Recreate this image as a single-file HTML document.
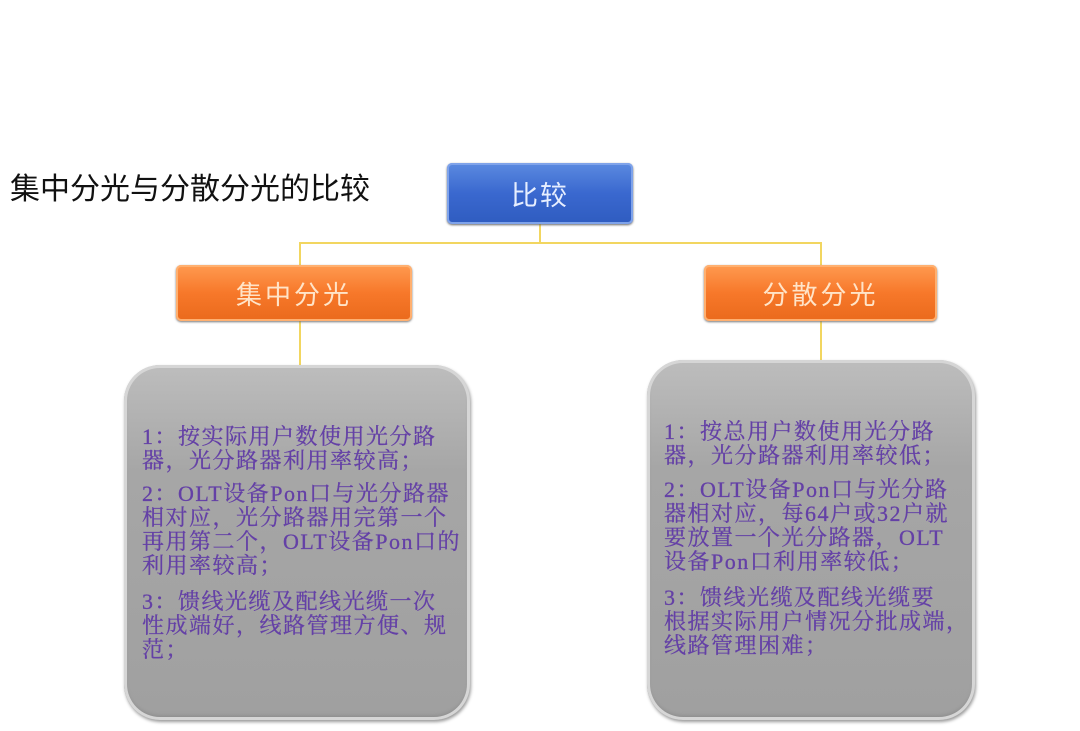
<!DOCTYPE html>
<html><head><meta charset="utf-8"><style>
body{margin:0;width:1080px;height:731px;background:#fff;position:relative;overflow:hidden;font-family:"Liberation Sans","Noto Sans CJK SC",sans-serif}
.a{position:absolute}
.ln{position:absolute;background:#f2d660}
.blue{left:447px;top:163px;width:186px;height:61px;border-radius:5px;background:linear-gradient(#5b8ae0,#3a68cf 50%,#2f5cc0);box-shadow:inset 0 0 0 2px #7fa3ea,0 1px 2px #666;color:#e6eeff;font-size:27px;display:flex;align-items:center;justify-content:center;letter-spacing:2px}
.or{top:265px;height:56px;border-radius:5px;background:linear-gradient(#ff9a50,#f7782a 50%,#ea6a1c);box-shadow:inset 0 0 0 2px #ffb070,0 1px 2px #777;color:#ffe4c8;font-size:26px;display:flex;align-items:center;justify-content:center;letter-spacing:3px}
.gr{border-radius:36px;background:linear-gradient(#bdbdbd,#a6a6a6 30%,#a0a0a0);box-shadow:inset 0 0 0 3px #d6d6d6,inset 0 -4px 4px #8a8a8a,1px 2px 3px #999}
.t{position:absolute;font-family:"Liberation Serif","Noto Serif CJK SC",serif;font-size:22px;color:#6440a6;line-height:24px;white-space:nowrap;letter-spacing:1.5px;-webkit-text-stroke:0.3px #6440a6}
</style></head><body>
<div class="a" style="left:10px;top:164px;font-size:30px;color:#111">集中分光与分散分光的比较</div>
<div class="ln" style="left:539px;top:224px;width:2px;height:20px"></div>
<div class="ln" style="left:299px;top:242px;width:523px;height:2px"></div>
<div class="ln" style="left:299px;top:242px;width:2px;height:24px"></div>
<div class="ln" style="left:820px;top:242px;width:2px;height:24px"></div>
<div class="ln" style="left:299px;top:321px;width:2px;height:45px"></div>
<div class="ln" style="left:820px;top:321px;width:2px;height:40px"></div>
<div class="a blue">比较</div>
<div class="a or" style="left:176px;width:236px">集中分光</div>
<div class="a or" style="left:704px;width:233px">分散分光</div>
<div class="a gr" style="left:124px;top:365px;width:346px;height:355px"></div>
<div class="a gr" style="left:647px;top:360px;width:328px;height:360px"></div>
<div class="t" style="left:142px;top:425px">1：按实际用户数使用光分路<br>器，光分路器利用率较高；</div>
<div class="t" style="left:142px;top:482px">2：OLT设备Pon口与光分路器<br>相对应，光分路器用完第一个<br>再用第二个，OLT设备Pon口的<br>利用率较高；</div>
<div class="t" style="left:142px;top:590px">3：馈线光缆及配线光缆一次<br>性成端好，线路管理方便、规<br>范；</div>
<div class="t" style="left:664px;top:420px">1：按总用户数使用光分路<br>器，光分路器利用率较低；</div>
<div class="t" style="left:664px;top:478px">2：OLT设备Pon口与光分路<br>器相对应，每64户或32户就<br>要放置一个光分路器，OLT<br>设备Pon口利用率较低；</div>
<div class="t" style="left:664px;top:586px">3：馈线光缆及配线光缆要<br>根据实际用户情况分批成端，<br>线路管理困难；</div>
</body></html>
